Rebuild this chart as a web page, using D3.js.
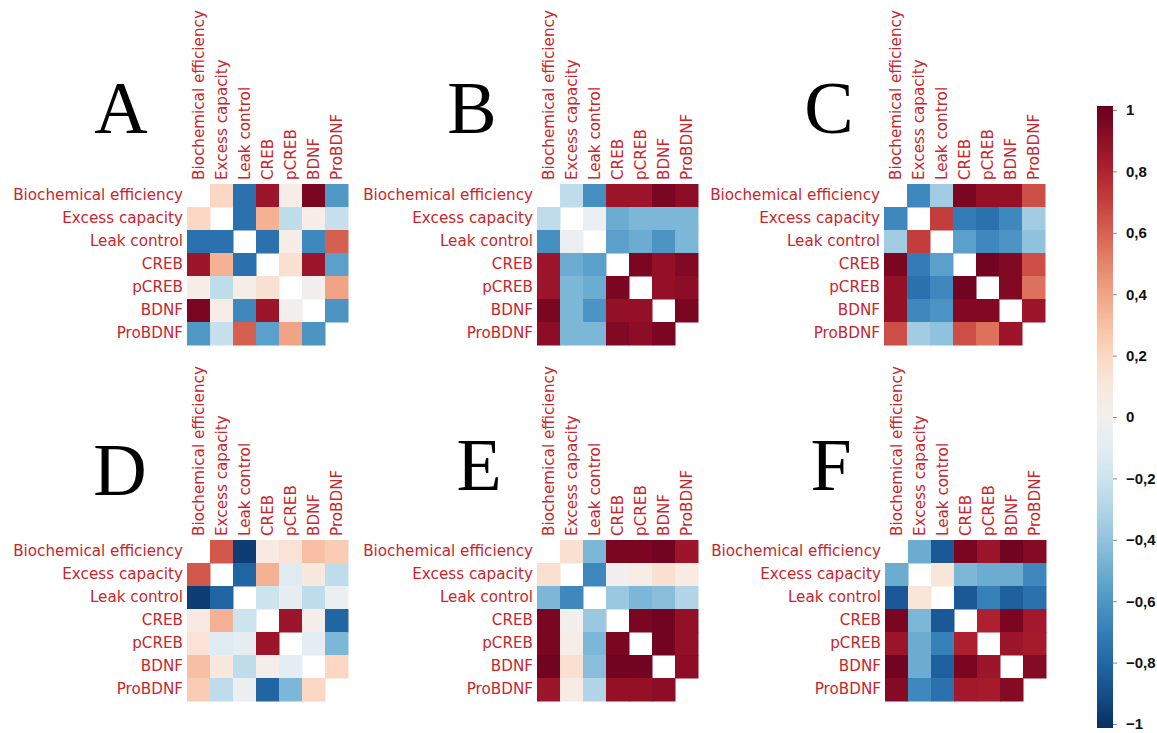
<!DOCTYPE html>
<html>
<head>
<meta charset="utf-8">
<script src="https://cdn.jsdelivr.net/npm/d3@7"></script>
<style>
  html, body { margin: 0; padding: 0; background: #fff; }
  svg { display: block; }
</style>
</head>
<body>
<svg id="chart" width="1157" height="733"></svg>
<script>
// ---------- DATA ----------
const variables = ["Biochemical efficiency", "Excess capacity", "Leak control", "CREB", "pCREB", "BDNF", "ProBDNF"];
const panelLetters = ["A", "B", "C", "D", "E", "F"];

// correlation matrices (null = masked diagonal)
const matrixA = [
  [null, 0.20, -0.75, 0.85, 0.05, 0.95, -0.58],
  [0.20, null, -0.75, 0.35, -0.25, 0.05, -0.22],
  [-0.75, -0.75, null, -0.75, 0.05, -0.65, 0.60],
  [0.85, 0.35, -0.75, null, 0.15, 0.85, -0.55],
  [0.05, -0.25, 0.05, 0.15, null, 0.00, 0.40],
  [0.95, 0.05, -0.65, 0.85, 0.00, null, -0.60],
  [-0.58, -0.22, 0.60, -0.55, 0.40, -0.60, null]
];
const matrixB = [
  [null, -0.25, -0.62, 0.85, 0.85, 0.95, 0.90],
  [-0.25, null, -0.05, -0.50, -0.45, -0.45, -0.45],
  [-0.62, -0.05, null, -0.55, -0.50, -0.60, -0.45],
  [0.85, -0.50, -0.55, null, 0.95, 0.88, 0.93],
  [0.85, -0.45, -0.50, 0.95, null, 0.88, 0.90],
  [0.95, -0.45, -0.60, 0.88, 0.88, null, 0.95],
  [0.90, -0.45, -0.45, 0.93, 0.90, 0.95, null]
];
const matrixC = [
  [null, -0.65, -0.35, 0.95, 0.88, 0.88, 0.65],
  [-0.65, null, 0.70, -0.70, -0.75, -0.65, -0.35],
  [-0.35, 0.70, null, -0.55, -0.65, -0.60, -0.40],
  [0.95, -0.70, -0.55, null, 0.97, 0.93, 0.65],
  [0.88, -0.75, -0.65, 0.97, null, 0.93, 0.55],
  [0.88, -0.65, -0.60, 0.93, 0.93, null, 0.85],
  [0.65, -0.35, -0.40, 0.65, 0.55, 0.85, null]
];
const matrixD = [
  [null, 0.62, -0.95, 0.08, 0.14, 0.30, 0.25],
  [0.62, null, -0.80, 0.35, -0.12, 0.10, -0.25],
  [-0.95, -0.80, null, -0.20, -0.08, -0.25, -0.05],
  [0.08, 0.35, -0.20, null, 0.85, 0.04, -0.80],
  [0.14, -0.12, -0.08, 0.85, null, -0.10, -0.45],
  [0.30, 0.10, -0.25, 0.04, -0.10, null, 0.20],
  [0.25, -0.25, -0.05, -0.80, -0.45, 0.20, null]
];
const matrixE = [
  [null, 0.15, -0.45, 0.95, 0.95, 0.97, 0.85],
  [0.15, null, -0.65, 0.00, 0.05, 0.15, 0.07],
  [-0.45, -0.65, null, -0.37, -0.45, -0.42, -0.30],
  [0.95, 0.00, -0.37, null, 0.95, 0.97, 0.88],
  [0.95, 0.05, -0.45, 0.95, null, 0.97, 0.88],
  [0.97, 0.15, -0.42, 0.97, 0.97, null, 0.90],
  [0.85, 0.07, -0.30, 0.88, 0.88, 0.90, null]
];
const matrixF = [
  [null, -0.50, -0.85, 0.95, 0.85, 0.97, 0.92],
  [-0.50, null, 0.12, -0.45, -0.50, -0.50, -0.65],
  [-0.85, 0.12, null, -0.85, -0.68, -0.82, -0.75],
  [0.95, -0.45, -0.85, null, 0.80, 0.95, 0.83],
  [0.85, -0.50, -0.68, 0.80, null, 0.85, 0.82],
  [0.97, -0.50, -0.82, 0.95, 0.85, null, 0.92],
  [0.92, -0.65, -0.75, 0.83, 0.82, 0.92, null]
];
const colorbarTicks = [1, 0.8, 0.6, 0.4, 0.2, 0, -0.2, -0.4, -0.6, -0.8, -1];

// ---------- LAYOUT ----------
const matrices = [matrixA, matrixB, matrixC, matrixD, matrixE, matrixF];
const cell = 23;
const gridSize = cell * variables.length;
const layout = [
  { x0: 187, y0: 184, lx: 121, ly: 133 },
  { x0: 537, y0: 184, lx: 472, ly: 133 },
  { x0: 884, y0: 184, lx: 829, ly: 133 },
  { x0: 187, y0: 540, lx: 120, ly: 495 },
  { x0: 537, y0: 540, lx: 479, ly: 490 },
  { x0: 885, y0: 540, lx: 831, ly: 490 }
];
const labelColor = "#c8262d";
const labelFont = "'DejaVu Sans', Verdana, sans-serif";
const labelSize = "15.2px";

const color = v => d3.interpolateRdBu((1 - v) / 2);

const svg = d3.select("#chart");

matrices.forEach((m, pi) => {
  const L = layout[pi];
  const x = d3.scaleBand().domain(variables).range([L.x0, L.x0 + gridSize]);
  const y = d3.scaleBand().domain(variables).range([L.y0, L.y0 + gridSize]);
  const g = svg.append("g");

  const cells = [];
  m.forEach((row, ri) => row.forEach((v, ci) => {
    if (v !== null) cells.push({ r: variables[ri], c: variables[ci], v });
  }));

  g.selectAll("rect.cell").data(cells).join("rect")
    .attr("class", "cell")
    .attr("x", d => x(d.c))
    .attr("y", d => y(d.r))
    .attr("width", x.bandwidth() + 0.5)
    .attr("height", y.bandwidth() + 0.5)
    .attr("fill", d => color(d.v));

  // column labels (rotated)
  const xAxis = g.append("g")
    .attr("transform", `translate(0,${L.y0})`)
    .call(d3.axisTop(x).tickSize(0).tickPadding(0));
  xAxis.select(".domain").remove();
  xAxis.selectAll("text")
    .attr("transform", "rotate(-90)")
    .attr("x", 4)
    .attr("y", 0)
    .attr("dy", "0.35em")
    .attr("dx", 0)
    .style("text-anchor", "start")
    .style("font-family", labelFont)
    .style("font-size", labelSize)
    .attr("fill", labelColor);

  // row labels
  const yAxis = g.append("g")
    .attr("transform", `translate(${L.x0},0)`)
    .call(d3.axisLeft(y).tickSize(0).tickPadding(4));
  yAxis.select(".domain").remove();
  yAxis.selectAll("text")
    .style("font-family", labelFont)
    .style("font-size", labelSize)
    .attr("fill", labelColor);

  // panel letter
  svg.append("text")
    .attr("x", L.lx)
    .attr("y", L.ly)
    .attr("text-anchor", "middle")
    .style("font-family", "'Liberation Serif', 'Times New Roman', serif")
    .style("font-size", "74px")
    .attr("fill", "#000")
    .text(panelLetters[pi]);
});

// ---------- COLORBAR ----------
const cbX = 1097, cbW = 16, cbTop = 106, cbBottom = 728;
const cbScale = d3.scaleLinear().domain([-1, 1]).range([cbBottom - 4, cbTop + 4]);
const defs = svg.append("defs");
const grad = defs.append("linearGradient")
  .attr("id", "cbgrad").attr("x1", 0).attr("x2", 0).attr("y1", 1).attr("y2", 0);
d3.range(0, 1.0001, 0.05).forEach(t => {
  grad.append("stop").attr("offset", t).attr("stop-color", color(-1 + 2 * t));
});
svg.append("rect")
  .attr("x", cbX).attr("y", cbTop)
  .attr("width", cbW).attr("height", cbBottom - cbTop)
  .attr("fill", "url(#cbgrad)");

const cbAxis = svg.append("g")
  .attr("transform", `translate(${cbX + cbW},0)`)
  .call(d3.axisRight(cbScale)
    .tickValues(colorbarTicks)
    .tickSize(4)
    .tickPadding(9)
    .tickFormat(d => d3.format("")(Math.round(d * 10) / 10).replace(".", ",")));
cbAxis.select(".domain").remove();
cbAxis.selectAll("line").attr("stroke", "#888");
cbAxis.selectAll("text")
  .style("font-family", "'Liberation Sans', Arial, sans-serif")
  .style("font-size", "15px")
  .style("font-weight", "bold")
  .attr("fill", "#111");
</script>
</body>
</html>
